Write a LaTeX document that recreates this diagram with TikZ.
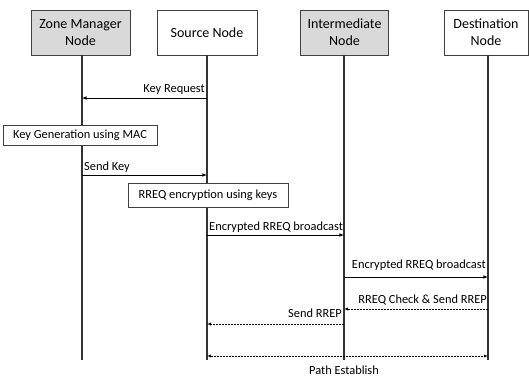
\documentclass[tikz,border=0pt]{standalone}
\usepackage{fontspec}
\setmainfont{Carlito}
\usetikzlibrary{arrows,positioning,calc}

\tikzset{
  actor/.style={draw=black!75, line width=0.9pt, minimum height=45pt, align=center, inner sep=2pt,
    font=\fontsize{14}{17}\selectfont},
  zone/.style={actor, fill=black!15},
  task/.style={draw=black!75, line width=0.7pt, fill=white, inner sep=2pt},
  life/.style={draw=black!80, line width=1.1pt},
  msg/.style={->, >=latex, line width=0.6pt},
  reply/.style={msg, dash pattern=on 2pt off 1pt, line width=0.4pt},
  lbl/.style={inner sep=1pt}
}

\begin{document}
\begin{tikzpicture}[x=1pt,y=-1pt,font=\fontsize{12.4}{15}\selectfont]
\useasboundingbox (0,0) rectangle (529,376);

% the four nodes
\node[zone, minimum width=99pt] (zm) at (80.5,32.5) {Zone Manager\\Node};
\node[actor, minimum width=100pt] (src) at (207,32.5) {Source Node};
\node[zone, minimum width=88pt] (mid) at (344.5,32.5) {Intermediate\\Node};
\node[actor, minimum width=84pt] (dst) at (486,32.5) {Destination\\Node};

% lifeline ends
\coordinate (zmE) at (82,360);
\coordinate (srcE) at (207,360);
\coordinate (midE) at (344,360);
\coordinate (dstE) at (488,360);

\draw[life] (zm.south -| zmE) -- (zmE);
\draw[life] (src.south -| srcE) -- (srcE);
\draw[life] (mid.south -| midE) -- (midE);
\draw[life] (dst.south -| dstE) -- (dstE);

% message end points
\coordinate (kr1) at (207,98);
\coordinate (kr2) at (82,98);
\coordinate (sk1) at (82,175);
\coordinate (sk2) at (207,175);
\coordinate (eb1) at (207,235);
\coordinate (eb2) at (344,235);
\coordinate (ec1) at (344,277);
\coordinate (ec2) at (488,277);
\coordinate (rc1) at (488,309);
\coordinate (rc2) at (344,309);
\coordinate (sr1) at (344,324);
\coordinate (sr2) at (207,324);
\coordinate (pe1) at (207,356);
\coordinate (pe2) at (488,356);

% local steps
\node[task, minimum width=154pt, minimum height=20pt] (keygen) at (80,135) {Key Generation using MAC};
\node[task, minimum width=160pt, minimum height=24pt] (enc) at (208,195) {RREQ encryption using keys};

% labels
\node[lbl, anchor=base east] (krL) at (206,92) {Key Request};
\node[lbl, anchor=base west] (skL) at (83,170) {Send Key};
\node[lbl, anchor=base west] (ebL) at (208,230) {Encrypted RREQ broadcast};
\node[lbl, anchor=base east] (ecL) at (487,268) {Encrypted RREQ broadcast};
\node[lbl, anchor=base east] (rcL) at (488,303) {RREQ Check \&\ Send RREP};
\node[lbl, anchor=base east] (srL) at (343,317) {Send RREP};
\node[lbl, anchor=base] (peL) at (344,374) {Path Establish};

\draw[msg] (kr1)--(kr2);
\draw[msg] (sk1)--(sk2);
\draw[msg] (eb1)--(eb2);
\draw[msg] (ec1)--(ec2);
\draw[reply] (rc1)--(rc2);
\draw[reply] (sr1)--(sr2);
\draw[reply, <->] (pe1)--(pe2);
\end{tikzpicture}
\end{document}
